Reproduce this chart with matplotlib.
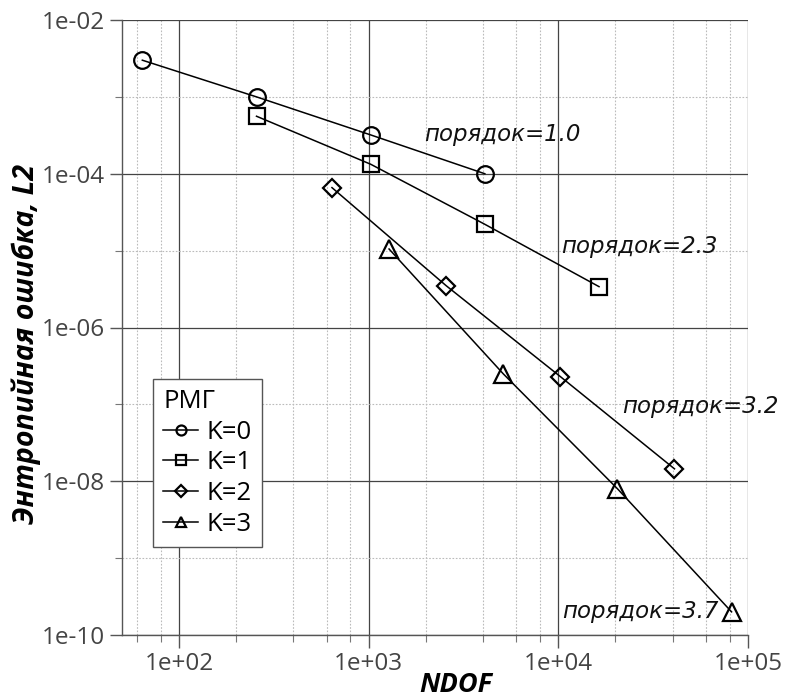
import math
import matplotlib
matplotlib.use("Agg")
import matplotlib.pyplot as plt
from matplotlib.ticker import LogLocator, NullFormatter, FixedLocator, FuncFormatter

# ---- data ----
ndof_k0 = [64, 256, 1024, 4096]
err_k0 = [3.0e-3, 1.0e-3, 3.2e-4, 1.0e-4]
ndof_k1 = [256, 1024, 4096, 16384]
err_k1 = [5.6e-4, 1.33e-4, 2.2e-5, 3.4e-6]
ndof_k2 = [640, 2560, 10240, 40960]
err_k2 = [6.6e-5, 3.5e-6, 2.3e-7, 1.45e-8]
ndof_k3 = [1280, 5120, 20480, 81920]
err_k3 = [1.05e-5, 2.5e-7, 8.0e-9, 2.0e-10]
labels = ["K=0", "K=1", "K=2", "K=3"]
markers = ["o", "s", "D", "^"]
order_labels = ["порядок=1.0", "порядок=2.3", "порядок=3.2", "порядок=3.7"]
order_pos = [(1960, 3.2e-4), (1.035e4, 1.12e-5), (2.17e4, 9.3e-8), (1.05e4, 2.0e-10)]
x_major = [1e2, 1e3, 1e4, 1e5]
y_major = [1e-10, 1e-8, 1e-6, 1e-4, 1e-2]
y_minor = [1e-9, 1e-7, 1e-5, 1e-3]

TICK_FONT = ["Open Sans", "DejaVu Sans"]

fig = plt.figure(figsize=(7.88, 7.0), dpi=100)
ax = fig.add_axes([122/788, 1-635/700, 626/788, 615/700])
ax.set_xscale("log")
ax.set_yscale("log")
ax.set_xlim(50, 1e5)
ax.set_ylim(1e-10, 1e-2)

series = [(ndof_k0, err_k0), (ndof_k1, err_k1), (ndof_k2, err_k2), (ndof_k3, err_k3)]
msizes = [12, 11.5, 9.5, 13]
for (x, y), lab, m, ms in zip(series, labels, markers, msizes):
    ax.plot(x, y, color="black", lw=1.1, marker=m, ms=ms, mfc="none",
            mec="black", mew=1.6, label=lab, zorder=3)

for txt, (tx, ty) in zip(order_labels, order_pos):
    ax.text(tx, ty, txt, fontsize=16.5, style="italic", family="DejaVu Sans",
            ha="left", va="center", color="#111111", zorder=4)

# ticks
ax.xaxis.set_major_locator(FixedLocator(x_major))
ax.xaxis.set_minor_locator(LogLocator(base=10, subs=[2, 4, 6, 8], numticks=20))
ax.xaxis.set_minor_formatter(NullFormatter())
ax.xaxis.set_major_formatter(FuncFormatter(lambda v, p: "1e+%02d" % round(math.log10(v))))
ax.yaxis.set_major_locator(FixedLocator(y_major))
ax.yaxis.set_minor_locator(FixedLocator(y_minor))
ax.yaxis.set_minor_formatter(NullFormatter())
ax.yaxis.set_major_formatter(FuncFormatter(lambda v, p: "1e-%02d" % round(-math.log10(v))))

ax.tick_params(which="major", length=9, width=1, color="#555555", labelcolor="#444444",
               labelsize=17.5, pad=3)
ax.tick_params(which="minor", length=5, width=0.8, color="#777777")
for lab in ax.get_xticklabels() + ax.get_yticklabels():
    lab.set_family(TICK_FONT)

ax.grid(which="major", color="#444444", lw=0.9, ls="-")
ax.grid(which="minor", color="#bbbbbb", lw=0.8, ls=(0, (1.5, 1.5)))
ax.set_axisbelow(True)

for s in ["top", "right"]:
    ax.spines[s].set_visible(False)
for s in ["left", "bottom"]:
    ax.spines[s].set_color("#555555")
    ax.spines[s].set_linewidth(1.0)

ax.set_xlabel("NDOF", fontsize=19.5, fontweight="bold", style="italic", family=TICK_FONT)
ax.set_ylabel("Энтропийная ошибка, L2", fontsize=20.5, fontweight="bold", style="italic", family=TICK_FONT)
ax.xaxis.set_label_coords((456-122)/626, -(692-635)/615)
ax.xaxis.label.set_va("baseline")
ax.yaxis.set_label_coords((41-122)/626, (635-344)/615)

leg = ax.legend(title="РМГ", loc="lower left", bbox_to_anchor=((153-122)/626, (635-547)/615),
                borderaxespad=0, fancybox=False, framealpha=1, edgecolor="#555555",
                markerscale=0.6, handlelength=1.35, handletextpad=0.35, labelspacing=0.22,
                prop={"family": TICK_FONT, "size": 18.5},
                title_fontproperties={"family": TICK_FONT, "size": 18.5},
                borderpad=0.4)
leg._legend_box.align = "left"
leg.get_frame().set_linewidth(1.0)
for h in leg.legend_handles:
    h.set_markeredgewidth(1.6)

fig.savefig("out.png", dpi=100, facecolor="white")
